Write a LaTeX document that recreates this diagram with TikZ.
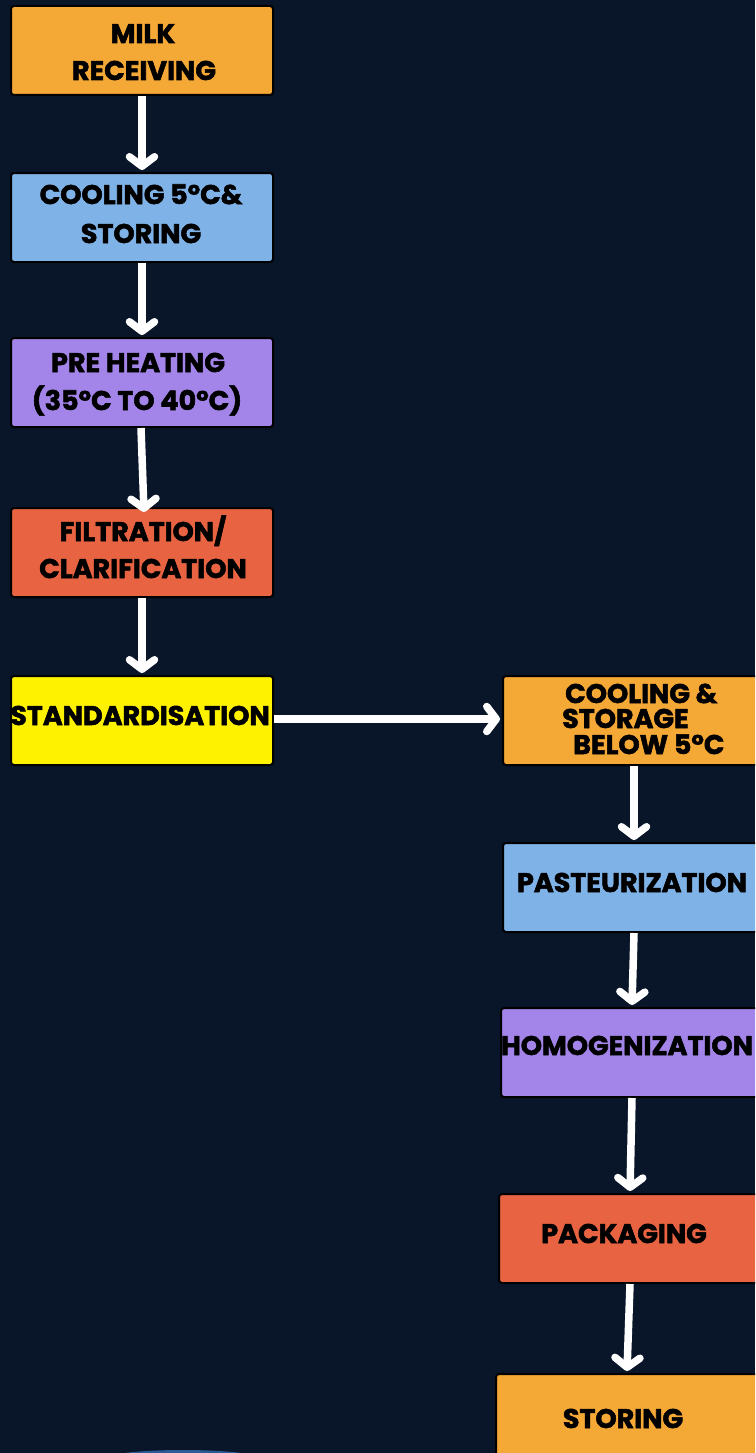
\documentclass[tikz,border=0pt]{standalone}
\usepackage{fontspec}
\newfontfamily\pop{Poppins}[BoldFeatures={FakeBold=2}]
\usetikzlibrary{arrows.meta}
\definecolor{bg}{HTML}{091528}
\definecolor{corange}{HTML}{F4A836}
\definecolor{cblue}{HTML}{7FB2E6}
\definecolor{cpurple}{HTML}{A384E8}
\definecolor{cred}{HTML}{E86341}
\definecolor{cyellow}{HTML}{FFF200}
\definecolor{glow}{HTML}{2C5A96}
\tikzset{
  box/.style={draw=black, line width=2pt, rounded corners=3pt, minimum width=262pt,
    minimum height=89pt, inner sep=0pt, anchor=north west},
  lbl/.style={font=\pop\bfseries\fontsize{27}{30}\selectfont, text=black, inner sep=0pt, anchor=base},
  lblw/.style={lbl, anchor=base west},
  flow/.style={draw=white, line width=7.5pt, line cap=butt,
    -{Straight Barb[round,length=9.5pt,width=25pt]}}
}
\begin{document}
\begin{tikzpicture}[x=1pt,y=-1pt]
\fill[bg] (0,0) rectangle (755,1453);
\useasboundingbox (0,0) rectangle (755,1453);
\clip (0,0) rectangle (755,1453);
\fill[glow] (183,1458) ellipse [x radius=75, y radius=8];
% left column
\node[box, fill=corange] (b1) at (10,5) {};
\node[box, fill=cblue] (b2) at (10,172) {};
\node[box, fill=cpurple] (b3) at (10,337) {};
\node[box, fill=cred] (b4) at (10,507) {};
\node[box, fill=cyellow] (b5) at (10,675) {};
% right column
\node[box, fill=corange] (b6) at (502,675) {};
\node[box, fill=cblue] (b7) at (502,842) {};
\node[box, fill=cpurple] (b8) at (500,1007) {};
\node[box, fill=cred] (b9) at (498,1193) {};
\node[box, fill=corange] (b10) at (495,1373) {};
% labels
\node[lbl] (t1a) at (143,43) {MILK};
\node[lbl] (t1b) at (144,80) {RECEIVING};
\node[lbl] (t2a) at (141,204) {COOLING 5°C\&};
\node[lbl] (t2b) at (141,243) {STORING};
\node[lbl] (t3a) at (138,372) {PRE HEATING};
\node[lbl] (t3b) at (137,410) {(35°C TO 40°C)};
\node[lbl] (t4a) at (143,541) {FILTRATION/};
\node[lbl] (t4b) at (143,578) {CLARIFICATION};
\node[lbl] (t5) at (140,725) {STANDARDISATION};
\node[lblw] (t6a) at (565,703) {COOLING \&};
\node[lblw] (t6b) at (562,728) {STORAGE};
\node[lblw] (t6c) at (573,754) {BELOW 5°C};
\node[lbl] (t7) at (632,892) {PASTEURIZATION};
\node[lbl] (t8) at (627,1055) {HOMOGENIZATION};
\node[lbl] (t9) at (624,1243) {PACKAGING};
\node[lbl] (t10) at (623,1428) {STORING};
% connectors
\draw[flow] (b1.south) -- ([yshift=2pt]b2.north);
\draw[flow] (b2.south) -- ([yshift=2pt]b3.north);
\draw[flow] ([xshift=-1pt]b3.south) -- ([xshift=2pt,yshift=-5pt]b4.north);
\draw[flow] (b4.south) -- ([yshift=2pt]b5.north);
\draw[flow] ([yshift=1.5pt]b5.east) -- ([xshift=-2pt,yshift=1.5pt]b6.west);
\draw[flow] (b6.south) -- ([yshift=2pt]b7.north);
\draw[flow] (b7.south) -- ([yshift=2pt]b8.north);
\draw[flow] (b8.south) -- ([yshift=2pt]b9.north);
\draw[flow] (b9.south) -- ([yshift=2pt]b10.north);
\end{tikzpicture}
\end{document}
